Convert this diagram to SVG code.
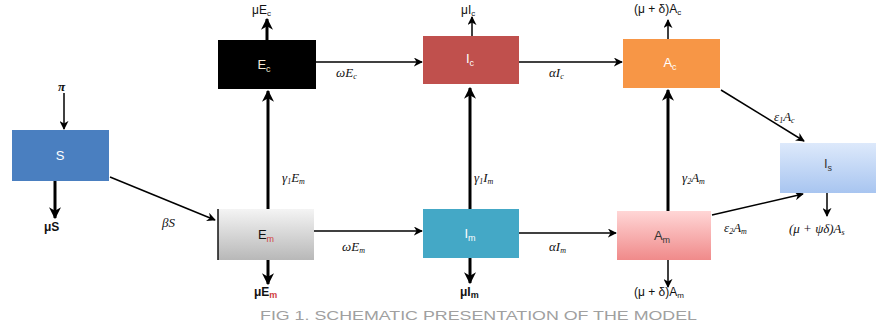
<svg xmlns="http://www.w3.org/2000/svg" width="890" height="327" viewBox="0 0 890 327">
<defs>
<marker id="ah" viewBox="0 0 10 10" refX="9" refY="5" markerWidth="4" markerHeight="4" orient="auto" markerUnits="strokeWidth"><path d="M0,0 L10,5 L0,10 L3,5 z" fill="#000"/></marker>
<marker id="ahs" viewBox="0 0 10 10" refX="9" refY="5" markerWidth="6" markerHeight="6" orient="auto" markerUnits="strokeWidth"><path d="M0,0 L10,5 L0,10 L3,5 z" fill="#000"/></marker>
<linearGradient id="gEm" x1="0" y1="0" x2="0" y2="1"><stop offset="0" stop-color="#f4f4f4"/><stop offset="1" stop-color="#b8b8b8"/></linearGradient>
<linearGradient id="gAm" x1="0" y1="0" x2="0" y2="1"><stop offset="0" stop-color="#ffd6d6"/><stop offset="1" stop-color="#f08a8a"/></linearGradient>
<linearGradient id="gIs" x1="0" y1="0" x2="0" y2="1"><stop offset="0" stop-color="#dde9fb"/><stop offset="1" stop-color="#a8c5f0"/></linearGradient>
</defs>
<style>
.box{stroke:none}
.nl{font-family:"Liberation Sans",Arial,sans-serif;font-size:13px;text-anchor:middle}
.lb{font-family:"Liberation Serif","Times New Roman",serif;font-size:13px;font-style:italic;fill:#111}
.lbs{font-family:"Liberation Sans",Arial,sans-serif;font-size:12px;fill:#111}
.thick{stroke:#000;stroke-width:3;fill:none}
.thin{stroke:#000;stroke-width:1.5;fill:none}
.cap{font-family:"Liberation Sans",Arial,sans-serif;font-size:13px;fill:#a0a0a0}
</style>
<rect width="890" height="327" fill="#fff"/>
<g id="connectors">
<line class="thin" x1="64" y1="93" x2="64" y2="129" marker-end="url(#ahs)"/>
<line class="thick" x1="55" y1="181" x2="55" y2="218" marker-end="url(#ah)"/>
<line class="thin" x1="110" y1="177" x2="215" y2="220" marker-end="url(#ahs)"/>
<line class="thick" x1="268" y1="260" x2="268" y2="284" marker-end="url(#ah)"/>
<line class="thick" x1="268" y1="209" x2="268" y2="91" marker-end="url(#ah)"/>
<line class="thick" x1="267" y1="40" x2="267" y2="19" marker-end="url(#ah)"/>
<line class="thin" x1="316" y1="62" x2="422" y2="62" marker-end="url(#ahs)"/>
<line class="thin" x1="314" y1="231" x2="422" y2="231" marker-end="url(#ahs)"/>
<line class="thin" x1="472" y1="36" x2="472" y2="17" marker-end="url(#ahs)"/>
<line class="thick" x1="470" y1="209" x2="470" y2="88" marker-end="url(#ah)"/>
<line class="thick" x1="470" y1="258" x2="470" y2="283" marker-end="url(#ah)"/>
<line class="thin" x1="519" y1="62" x2="622" y2="62" marker-end="url(#ahs)"/>
<line class="thin" x1="519" y1="233" x2="616" y2="233" marker-end="url(#ahs)"/>
<line class="thin" x1="668" y1="39" x2="668" y2="20" marker-end="url(#ahs)"/>
<line class="thick" x1="668" y1="211" x2="668" y2="90" marker-end="url(#ah)"/>
<line class="thin" x1="668" y1="260" x2="668" y2="287" marker-end="url(#ahs)"/>
<line class="thin" x1="721" y1="90" x2="804" y2="141" marker-end="url(#ahs)"/>
<line class="thin" x1="712" y1="215" x2="803" y2="194" marker-end="url(#ahs)"/>
<line class="thin" x1="827" y1="193" x2="827" y2="216" marker-end="url(#ahs)"/>
</g>
<g id="S"><rect class="box" x="12" y="130" width="97" height="51" fill="#4a7fc0"/><text class="nl" x="60" y="160" fill="#fff">S</text></g>
<g id="Ec"><rect class="box" x="218" y="40" width="98" height="49" fill="#000"/><text class="nl" x="264" y="69" fill="#f3e9d8">E<tspan font-size="9" dy="3">c</tspan></text></g>
<g id="Em"><rect class="box" x="218" y="209" width="96" height="51" fill="url(#gEm)"/><line x1="218" y1="209" x2="218" y2="260" stroke="#111" stroke-width="1.5"/><text class="nl" x="266" y="239" fill="#111">E<tspan font-size="9" dy="3" fill="#d04040">m</tspan></text></g>
<g id="Ic"><rect class="box" x="423" y="36" width="96" height="48" fill="#c0504d"/><text class="nl" x="470" y="63" fill="#fff">I<tspan font-size="9" dy="3">c</tspan></text></g>
<g id="Im"><rect class="box" x="423" y="209" width="96" height="49" fill="#44a8c6"/><text class="nl" x="470" y="238" fill="#fff">I<tspan font-size="9" dy="3">m</tspan></text></g>
<g id="Ac"><rect class="box" x="623" y="39" width="97" height="49" fill="#f79646"/><text class="nl" x="670" y="67" fill="#fff">A<tspan font-size="9" dy="3">c</tspan></text></g>
<g id="Am"><rect class="box" x="617" y="211" width="94" height="49" fill="url(#gAm)"/><text class="nl" x="662" y="240" fill="#333">A<tspan font-size="9" dy="3">m</tspan></text></g>
<g id="Is"><rect class="box" x="780" y="143" width="96" height="50" fill="url(#gIs)"/><text class="nl" x="828" y="168" fill="#333">I<tspan font-size="9" dy="3">s</tspan></text></g>
<g id="labels">
<text class="lb" x="58" y="91" font-style="normal" font-weight="bold">π</text>
<text class="lbs" x="44" y="231" font-weight="bold">μS</text>
<text class="lb" x="162" y="227">βS</text>
<text class="lbs" x="254" y="296" font-weight="bold">μE<tspan font-size="9" dy="2" fill="#d04040">m</tspan></text>
<text class="lbs" x="252" y="14">μE<tspan font-size="8" dy="2">c</tspan></text>
<text class="lb" x="282" y="182">γ<tspan font-size="8" dy="2">1</tspan><tspan dy="-2">E</tspan><tspan font-size="8" dy="2">m</tspan></text>
<text class="lb" x="336" y="77">ωE<tspan font-size="8" dy="2">c</tspan></text>
<text class="lb" x="342" y="251">ωE<tspan font-size="8" dy="2">m</tspan></text>
<text class="lbs" x="461" y="14">μI<tspan font-size="8" dy="2">c</tspan></text>
<text class="lb" x="474" y="182">γ<tspan font-size="8" dy="2">1</tspan><tspan dy="-2">I</tspan><tspan font-size="8" dy="2">m</tspan></text>
<text class="lbs" x="460" y="296" font-weight="bold">μI<tspan font-size="9" dy="2">m</tspan></text>
<text class="lb" x="549" y="77">αI<tspan font-size="8" dy="2">c</tspan></text>
<text class="lb" x="549" y="251">αI<tspan font-size="8" dy="2">m</tspan></text>
<text class="lbs" x="634" y="13">(μ + δ)A<tspan font-size="8" dy="2">c</tspan></text>
<text class="lb" x="682" y="182">γ<tspan font-size="8" dy="2">2</tspan><tspan dy="-2">A</tspan><tspan font-size="8" dy="2">m</tspan></text>
<text class="lbs" x="634" y="296">(μ + δ)A<tspan font-size="8" dy="2">m</tspan></text>
<text class="lb" x="774" y="121">ε<tspan font-size="8" dy="2">1</tspan><tspan dy="-2">A</tspan><tspan font-size="8" dy="2">c</tspan></text>
<text class="lb" x="724" y="232">ε<tspan font-size="8" dy="2">2</tspan><tspan dy="-2">A</tspan><tspan font-size="8" dy="2">m</tspan></text>
<text class="lb" x="789" y="233">(μ + ψδ)A<tspan font-size="8" dy="2">s</tspan></text>
<text class="cap" x="260" y="320" textLength="437" lengthAdjust="spacingAndGlyphs">FIG 1. SCHEMATIC PRESENTATION OF THE MODEL</text>
</g>
</svg>
